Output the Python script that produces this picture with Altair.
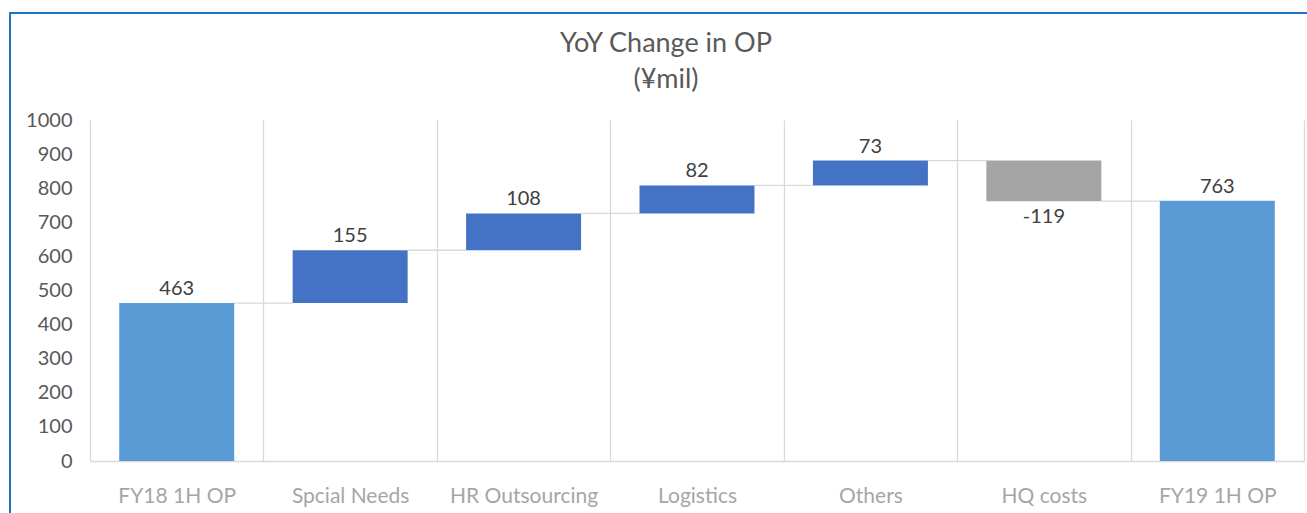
import altair as alt
import pandas as pd

categories = ["FY18 1H OP", "Spcial Needs", "HR Outsourcing", "Logistics", "Others", "HQ costs", "FY19 1H OP"]
values = [463, 155, 108, 82, 73, -119, 763]
kinds = ["total", "inc", "inc", "inc", "inc", "dec", "total"]
y_ticks = [0, 100, 200, 300, 400, 500, 600, 700, 800, 900, 1000]

rows = []
running = 0
for i, (c, v, k) in enumerate(zip(categories, values, kinds)):
    if k == "total":
        start, end = 0, v
        running = v
    else:
        start, end = running, running + v
        running = end
    nxt = categories[i + 1] if i + 1 < len(categories) else None
    rows.append({"cat": c, "val": v, "kind": k, "start": start, "end": end,
                 "next": nxt, "label": str(v),
                 "top": max(start, end), "bottom": min(start, end)})
df = pd.DataFrame(rows)

W, H = 1214, 341
xaxis = alt.Axis(labelAngle=0, grid=True, tickBand="extent", ticks=False,
                 bandPosition=0.5,
                 gridColor="#d9d9d9", gridWidth=1.3,
                 domainColor="#d9d9d9", domainWidth=1.3,
                 labelFont="Lato", labelFontSize=21, labelColor="#a6a6a6",
                 labelPadding=24)
yaxis = alt.Axis(values=y_ticks, grid=False, domain=False, ticks=False,
                 format="d", labelOverlap=False, tickCount=11,
                 labelFont="Lato", labelFontSize=20, labelColor="#595959",
                 labelPadding=18)
xscale = alt.Scale(paddingInner=0, paddingOuter=0)
yscale = alt.Scale(domain=[0, 1000], nice=False)

base = alt.Chart(df)

connectors = base.transform_filter("datum.next != null").mark_rule(
    color="#d9d9d9", strokeWidth=1.3).encode(
    x=alt.X("cat:N", sort=categories, bandPosition=0.8315, axis=xaxis, scale=xscale, title=None),
    x2=alt.X2("next", bandPosition=0.1685),
    y=alt.Y("end:Q", scale=yscale, axis=yaxis, title=None),
)

bars = base.mark_bar(width=alt.RelativeBandSize(0.663)).encode(
    x=alt.X("cat:N", sort=categories, axis=xaxis, scale=xscale, title=None),
    y=alt.Y("start:Q", scale=yscale, axis=yaxis, title=None),
    y2="end:Q",
    color=alt.Color("kind:N", legend=None,
                    scale=alt.Scale(domain=["total", "inc", "dec"],
                                    range=["#5b9bd5", "#4472c4", "#a5a5a5"])),
)

labels_up = base.transform_filter("datum.val >= 0").mark_text(
    baseline="bottom", dy=-4, font="Lato", fontSize=20, color="#404040").encode(
    x=alt.X("cat:N", sort=categories, axis=xaxis, scale=xscale, title=None),
    y=alt.Y("top:Q", scale=yscale, axis=yaxis, title=None), text="label:N")

labels_down = base.transform_filter("datum.val < 0").mark_text(
    baseline="top", dy=6, font="Lato", fontSize=20, color="#404040").encode(
    x=alt.X("cat:N", sort=categories, axis=xaxis, scale=xscale, title=None),
    y=alt.Y("bottom:Q", scale=yscale, axis=yaxis, title=None), text="label:N")

border = alt.Chart(pd.DataFrame({"a": [0]})).mark_rect(
    fill=None, stroke="#1f73c4", strokeWidth=2).encode(
    x=alt.value(-80), x2=alt.value(1240), y=alt.value(-107), y2=alt.value(440))

chart = alt.layer(border, connectors, bars, labels_up, labels_down).properties(
    width=W, height=H,
    background="white",
    title=alt.TitleParams(["YoY Change in OP", "(¥mil)"], font="Lato", fontSize=27,
                          fontWeight="normal", color="#595959", lineHeight=36,
                          anchor="middle", frame="group", dx=-31, offset=-82),
    autosize=alt.AutoSizeParams(type="none"),
    padding={"left": 90, "top": 120, "right": 3, "bottom": 52},
).configure_view(strokeWidth=0, stroke="transparent")

chart.save("out.html", embed_options={"renderer": "svg", "actions": False})
